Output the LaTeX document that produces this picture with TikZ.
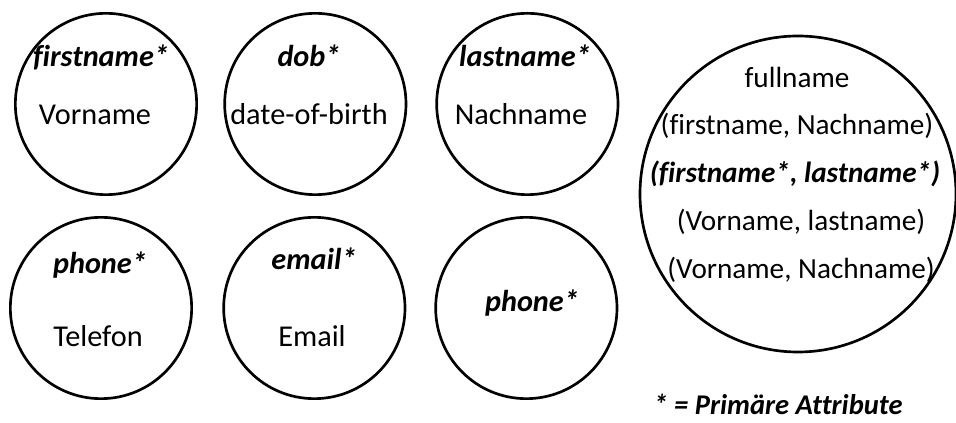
\documentclass[tikz,border=0pt]{standalone}
\usepackage{fontspec}
\setmainfont{Carlito}[Ligatures=NoCommon]
\usetikzlibrary{positioning}
\tikzstyle{entity}=[draw, circle, line width=2pt, minimum size=136pt, inner sep=0pt]
\tikzstyle{big}=[draw, circle, line width=2pt, minimum size=237pt, inner sep=0pt]
\tikzstyle{key}=[anchor=base, font=\fontsize{22.7}{27}\selectfont\bfseries\itshape]
\tikzstyle{alias}=[anchor=base]
\tikzstyle{combo}=[anchor=base, font=\fontsize{21.9}{26}\selectfont]
\tikzstyle{every node}=[font=\fontsize{22.7}{27}\selectfont, inner sep=0pt]

\begin{document}
\begin{tikzpicture}[x=0.75pt, y=-0.75pt]
    \useasboundingbox (0,0) rectangle (956,423);
    % erste Reihe
    \node[entity] (first) at (106,104) {};
    \node[entity, right of=first, node distance=157pt] (dob) {};
    \node[entity, right of=dob, node distance=159pt] (last) {};
    % zweite Reihe
    \node[entity] (phone) at (101,308) {};
    \node[entity, right of=phone, node distance=160pt] (email) {};
    \node[entity, right of=email, node distance=159pt] (phonex) {};
    \node[big] (full) at (798,194) {};

    \node[key] (firstk) at (101,67) {firstname*};
    \node[alias] (firsta) at (95,125) {Vorname};
    \node[key] (dobk) at (309,67) {dob*};
    \node[alias] (doba) at (309,125) {date-of-birth};
    \node[key] (lastk) at (525,67) {lastname*};
    \node[alias] (lasta) at (521,125) {Nachname};

    \node[key] (phonek) at (100,274) {phone*};
    \node[alias] (phonea) at (98,347) {Telefon};
    \node[key] (emailk) at (314,270) {email*};
    \node[alias] (emaila) at (312,347) {Email};
    \node[key] (phonexk) at (532,312) {phone*};

    \node[combo] (fullk) at (797,88) {fullname};
    \node[combo] (fulla) at (797,135) {(firstname, Nachname)};
    \node[combo, font=\fontsize{21.9}{26}\selectfont\bfseries\itshape] (fullb) at (795,183) {(firstname*, lastname*)};
    \node[combo] (fullc) at (801,231) {(Vorname, lastname)};
    \node[combo] (fulld) at (801,279) {(Vorname, Nachname)};

    \node[key, font=\fontsize{21.4}{25}\selectfont\bfseries\itshape] (legend) at (778,415) {* = Primäre Attribute};
\end{tikzpicture}
\end{document}
